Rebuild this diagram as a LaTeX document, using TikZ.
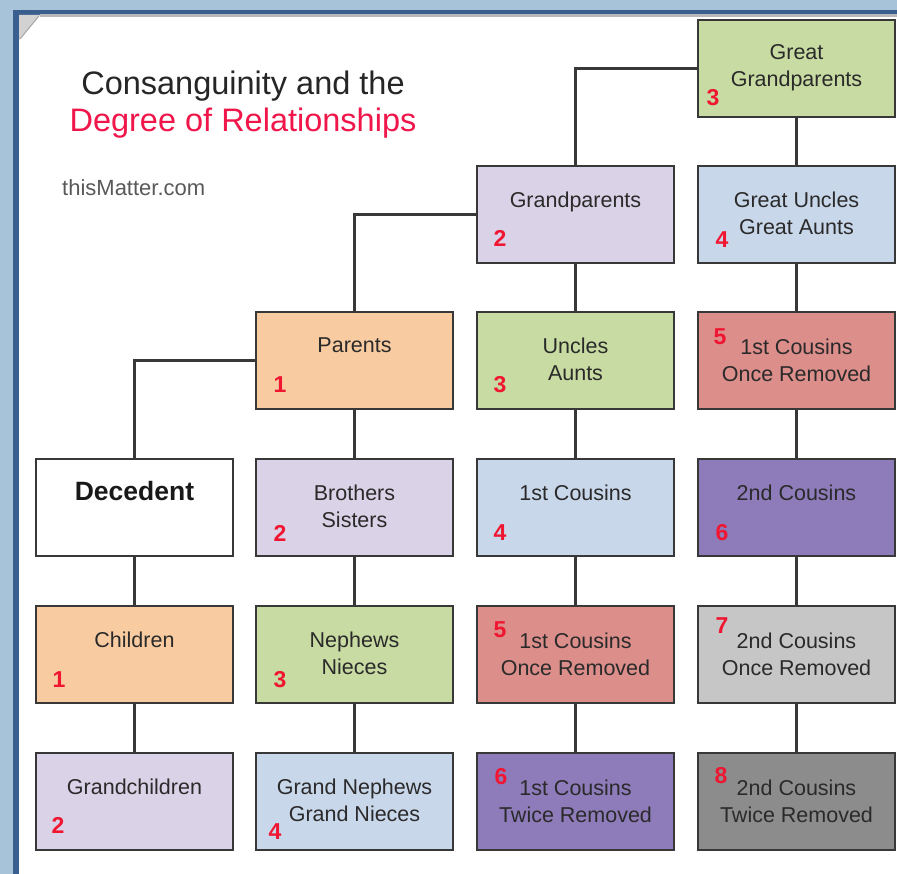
\documentclass[tikz,border=0pt]{standalone}
\usepackage{fontspec}
\setmainfont{Liberation Sans}
\definecolor{bgblue}{HTML}{A6C3DA}
\definecolor{darkblue}{HTML}{3A5F8E}
\definecolor{linec}{HTML}{383838}
\definecolor{textc}{HTML}{2A2A2A}
\definecolor{numred}{HTML}{F01530}
\definecolor{titlered}{HTML}{F0164A}
\definecolor{cpeach}{HTML}{F8CBA0}
\definecolor{clav}{HTML}{DAD2E6}
\definecolor{cgreen}{HTML}{C8DBA2}
\definecolor{cblue}{HTML}{C9D7EA}
\definecolor{cred}{HTML}{DC8E8B}
\definecolor{cpurple}{HTML}{8E7BBA}
\definecolor{cgray}{HTML}{C6C6C6}
\definecolor{cdgray}{HTML}{8C8C8C}
\begin{document}
\begin{tikzpicture}[x=1pt,y=-1pt,
  box/.style={draw=linec, line width=2.3pt, minimum width=197pt, minimum height=97pt, anchor=north west, inner sep=0pt, outer sep=0pt},
  txt/.style={font=\fontsize{21.5}{27}\selectfont, align=center, anchor=north, inner sep=0pt, text=textc},
  num/.style={font=\bfseries\fontsize{23}{23}\selectfont, text=numred, inner sep=0pt},
  conn/.style={draw=linec, line width=2.3pt}]
\useasboundingbox (0,0) rectangle (897,874);
% background and panel
\fill[bgblue] (0,0) rectangle (897,874);
\fill[darkblue] (13,10) rectangle (897,874);
\fill[white] (19,15) rectangle (897,874);
\draw[gray!55, line width=3pt] (40,15.5) -- (897,15.5);
\fill[gray!35] (19,15) -- (40,15) -- (19,40) -- cycle;
\draw[gray!70, line width=1pt] (20,39) -- (39,16);
% title
\node[font=\fontsize{32.5}{32.5}\selectfont, text=black!85, anchor=base, inner sep=0pt] (t1) at (243,95) {Consanguinity and the};
\node[font=\fontsize{32.5}{32.5}\selectfont, text=titlered, anchor=base, inner sep=0pt] (t2) at (243,132) {Degree of Relationships};
\node[font=\fontsize{22}{22}\selectfont, text=black!65, anchor=base west, inner sep=0pt] (site) at (62,196) {thisMatter.com};
% boxes
\node[box, fill=cgreen] (ggp) at (698,20) {};
\node[box, fill=clav] (gp) at (477,166) {};
\node[box, fill=cblue] (gu) at (698,166) {};
\node[box, fill=cpeach] (par) at (256,312) {};
\node[box, fill=cgreen] (unc) at (477,312) {};
\node[box, fill=cred] (fcorA) at (698,312) {};
\node[box, fill=white] (dec) at (36,459) {};
\node[box, fill=clav] (bro) at (256,459) {};
\node[box, fill=cblue] (fc) at (477,459) {};
\node[box, fill=cpurple] (sc) at (698,459) {};
\node[box, fill=cpeach] (chi) at (36,606) {};
\node[box, fill=cgreen] (nep) at (256,606) {};
\node[box, fill=cred] (fcorB) at (477,606) {};
\node[box, fill=cgray] (scor) at (698,606) {};
\node[box, fill=clav] (gch) at (36,753) {};
\node[box, fill=cblue] (gn) at (256,753) {};
\node[box, fill=cpurple] (fctr) at (477,753) {};
\node[box, fill=cdgray] (sctr) at (698,753) {};
% texts
\node[txt] (ggpT) at ([yshift=-24pt]ggp.north) {Great\\Grandparents};
\node[txt] (gpT) at ([yshift=-26pt]gp.north) {Grandparents};
\node[txt] (guT) at ([yshift=-26pt]gu.north) {Great Uncles\\Great Aunts};
\node[txt] (parT) at ([yshift=-26pt]par.north) {Parents};
\node[txt] (uncT) at ([yshift=-26pt]unc.north) {Uncles\\Aunts};
\node[txt] (fcorAT) at ([yshift=-27pt]fcorA.north) {1st Cousins\\Once Removed};
\node[font=\bfseries\fontsize{26.5}{26.5}\selectfont, text=black!90, anchor=base, inner sep=0pt] (decT) at ([yshift=-41pt]dec.north) {Decedent};
\node[txt] (broT) at ([yshift=-26pt]bro.north) {Brothers\\Sisters};
\node[txt] (fcT) at ([yshift=-26pt]fc.north) {1st Cousins};
\node[txt] (scT) at ([yshift=-26pt]sc.north) {2nd Cousins};
\node[txt] (chiT) at ([yshift=-26pt]chi.north) {Children};
\node[txt] (nepT) at ([yshift=-26pt]nep.north) {Nephews\\Nieces};
\node[txt] (fcorBT) at ([yshift=-27pt]fcorB.north) {1st Cousins\\Once Removed};
\node[txt] (scorT) at ([yshift=-27pt]scor.north) {2nd Cousins\\Once Removed};
\node[txt] (gchT) at ([yshift=-26pt]gch.north) {Grandchildren};
\node[txt] (gnT) at ([yshift=-26pt]gn.north) {Grand Nephews\\Grand Nieces};
\node[txt] (fctrT) at ([yshift=-27pt]fctr.north) {1st Cousins\\Twice Removed};
\node[txt] (sctrT) at ([yshift=-27pt]sctr.north) {2nd Cousins\\Twice Removed};
% degree numbers
\node[num] (ggpN) at ([xshift=15pt,yshift=-78pt]ggp.north west) {3};
\node[num] (gpN) at ([xshift=23pt,yshift=-72pt]gp.north west) {2};
\node[num] (guN) at ([xshift=24pt,yshift=-74pt]gu.north west) {4};
\node[num] (parN) at ([xshift=24pt,yshift=-73pt]par.north west) {1};
\node[num] (uncN) at ([xshift=23pt,yshift=-73pt]unc.north west) {3};
\node[num] (fcorAN) at ([xshift=22pt,yshift=-25pt]fcorA.north west) {5};
\node[num] (broN) at ([xshift=24pt,yshift=-74pt]bro.north west) {2};
\node[num] (fcN) at ([xshift=23pt,yshift=-74pt]fc.north west) {4};
\node[num] (scN) at ([xshift=24pt,yshift=-74pt]sc.north west) {6};
\node[num] (chiN) at ([xshift=23pt,yshift=-74pt]chi.north west) {1};
\node[num] (nepN) at ([xshift=24pt,yshift=-74pt]nep.north west) {3};
\node[num] (fcorBN) at ([xshift=23pt,yshift=-24pt]fcorB.north west) {5};
\node[num] (scorN) at ([xshift=24pt,yshift=-20pt]scor.north west) {7};
\node[num] (gchN) at ([xshift=22pt,yshift=-72pt]gch.north west) {2};
\node[num] (gnN) at ([xshift=19pt,yshift=-79pt]gn.north west) {4};
\node[num] (fctrN) at ([xshift=24pt,yshift=-24pt]fctr.north west) {6};
\node[num] (sctrN) at ([xshift=23pt,yshift=-23pt]sctr.north west) {8};
% connectors
\draw[conn] (ggp.west) -| (gp.north);
\draw[conn] (gp.west) -| (par.north);
\draw[conn] (par.west) -| (dec.north);
\draw[conn] (ggp.south) -- (gu.north);
\draw[conn] (gu.south) -- (fcorA.north);
\draw[conn] (fcorA.south) -- (sc.north);
\draw[conn] (sc.south) -- (scor.north);
\draw[conn] (scor.south) -- (sctr.north);
\draw[conn] (gp.south) -- (unc.north);
\draw[conn] (unc.south) -- (fc.north);
\draw[conn] (fc.south) -- (fcorB.north);
\draw[conn] (fcorB.south) -- (fctr.north);
\draw[conn] (par.south) -- (bro.north);
\draw[conn] (bro.south) -- (nep.north);
\draw[conn] (nep.south) -- (gn.north);
\draw[conn] (dec.south) -- (chi.north);
\draw[conn] (chi.south) -- (gch.north);
\end{tikzpicture}
\end{document}
